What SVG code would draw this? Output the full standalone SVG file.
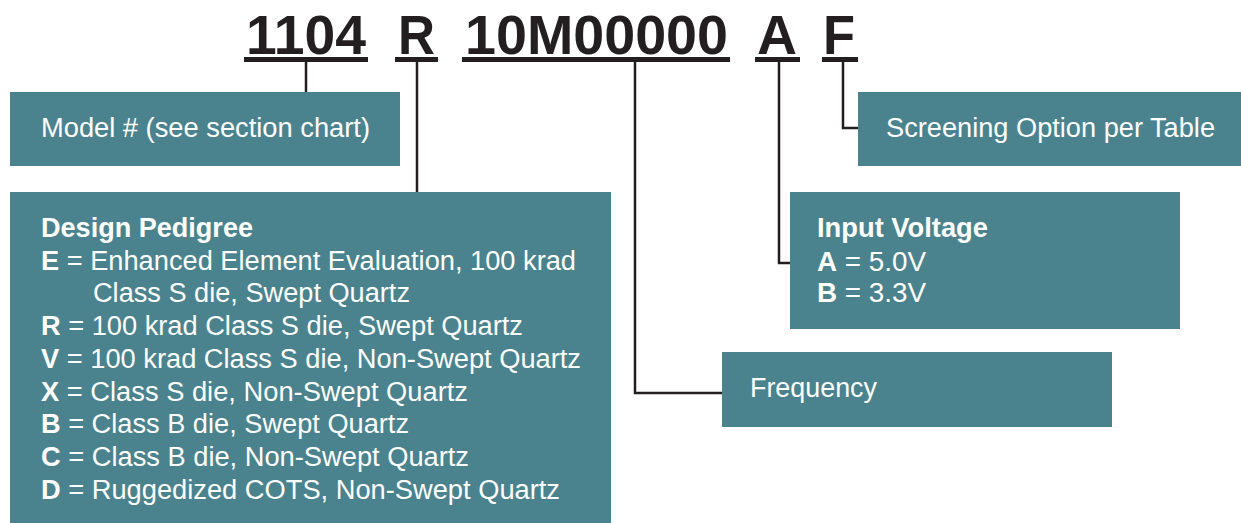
<svg xmlns="http://www.w3.org/2000/svg" width="1241" height="523" viewBox="0 0 1241 523">
<style>
.box{fill:#4a838d}
.t{font-family:"Liberation Sans",Arial,sans-serif;font-size:27px;fill:#ffffff}
.b{font-weight:bold}
.code{font-family:"Liberation Sans",Arial,sans-serif;font-size:56px;font-weight:bold;fill:#231f20}
.ul{fill:#231f20}
.c{fill:none;stroke:#231f20;stroke-width:2.5}
</style>
<rect width="1241" height="523" fill="#ffffff"/>
<g id="code">
<text class="code" x="246" y="54" textLength="120" lengthAdjust="spacingAndGlyphs">1104</text>
<text class="code" x="398" y="54" textLength="37" lengthAdjust="spacingAndGlyphs">R</text>
<text class="code" x="465" y="54" textLength="263" lengthAdjust="spacingAndGlyphs">10M00000</text>
<text class="code" x="757" y="54" textLength="40" lengthAdjust="spacingAndGlyphs">A</text>
<text class="code" x="823" y="54" textLength="32" lengthAdjust="spacingAndGlyphs">F</text>
<rect class="ul" x="244" y="57" width="124" height="5"/>
<rect class="ul" x="395" y="57" width="43" height="5"/>
<rect class="ul" x="462" y="57" width="268" height="5"/>
<rect class="ul" x="755" y="57" width="45" height="5"/>
<rect class="ul" x="822" y="57" width="36" height="5"/>
</g>
<g id="connectors">
<path class="c" d="M306 62V92"/>
<path class="c" d="M417 62V192"/>
<path class="c" d="M635 62V393H722"/>
<path class="c" d="M779 62V263H790"/>
<path class="c" d="M843 62V128H858"/>
</g>
<g id="model">
<rect class="box" x="10" y="92" width="390" height="74"/>
<text class="t" x="41" y="137" textLength="329" lengthAdjust="spacingAndGlyphs">Model # (see section chart)</text>
</g>
<g id="screening">
<rect class="box" x="858" y="92" width="383" height="74"/>
<text class="t" x="886" y="137" textLength="329" lengthAdjust="spacingAndGlyphs">Screening Option per Table</text>
</g>
<g id="pedigree">
<rect class="box" x="10" y="192" width="601" height="331"/>
<text class="t b" x="41" y="237" textLength="212" lengthAdjust="spacingAndGlyphs">Design Pedigree</text>
<text class="t" x="41" y="270" textLength="535" lengthAdjust="spacingAndGlyphs"><tspan class="b">E</tspan> = Enhanced Element Evaluation, 100 krad</text>
<text class="t" x="93" y="302" textLength="317" lengthAdjust="spacingAndGlyphs">Class S die, Swept Quartz</text>
<text class="t" x="41" y="335" textLength="482" lengthAdjust="spacingAndGlyphs"><tspan class="b">R</tspan> = 100 krad Class S die, Swept Quartz</text>
<text class="t" x="41" y="368" textLength="540" lengthAdjust="spacingAndGlyphs"><tspan class="b">V</tspan> = 100 krad Class S die, Non-Swept Quartz</text>
<text class="t" x="41" y="401" textLength="427" lengthAdjust="spacingAndGlyphs"><tspan class="b">X</tspan> = Class S die, Non-Swept Quartz</text>
<text class="t" x="41" y="433" textLength="368" lengthAdjust="spacingAndGlyphs"><tspan class="b">B</tspan> = Class B die, Swept Quartz</text>
<text class="t" x="41" y="466" textLength="428" lengthAdjust="spacingAndGlyphs"><tspan class="b">C</tspan> = Class B die, Non-Swept Quartz</text>
<text class="t" x="41" y="499" textLength="519" lengthAdjust="spacingAndGlyphs"><tspan class="b">D</tspan> = Ruggedized COTS, Non-Swept Quartz</text>
</g>
<g id="voltage">
<rect class="box" x="790" y="192" width="390" height="137"/>
<text class="t b" x="817" y="237" textLength="171" lengthAdjust="spacingAndGlyphs">Input Voltage</text>
<text class="t" x="817" y="271" textLength="109" lengthAdjust="spacingAndGlyphs"><tspan class="b">A</tspan> = 5.0V</text>
<text class="t" x="817" y="302" textLength="109" lengthAdjust="spacingAndGlyphs"><tspan class="b">B</tspan> = 3.3V</text>
</g>
<g id="frequency">
<rect class="box" x="722" y="352" width="390" height="75"/>
<text class="t" x="750" y="397" textLength="127" lengthAdjust="spacingAndGlyphs">Frequency</text>
</g>
</svg>
